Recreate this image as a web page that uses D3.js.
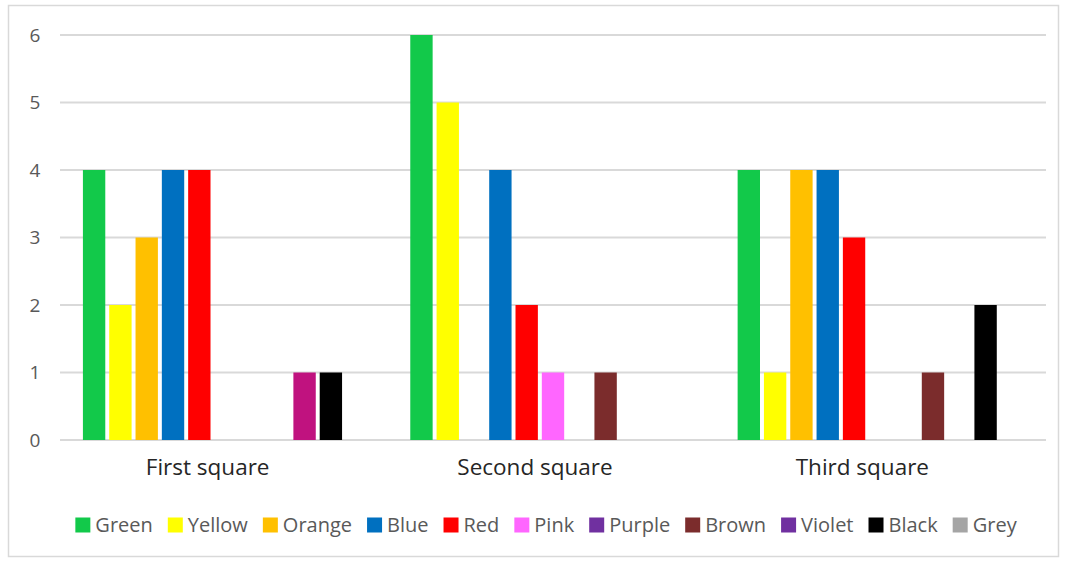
<!DOCTYPE html>
<html>
<head>
<meta charset="utf-8">
<script src="https://cdn.jsdelivr.net/npm/d3@7"></script>
<style>
  body { margin: 0; background: #fff; }
  text { font-family: "Open Sans", "Noto Sans", sans-serif; }
</style>
</head>
<body>
<svg id="chart"></svg>
<script>
const categories = ['First square', 'Second square', 'Third square']
const seriesNames = ['Green', 'Yellow', 'Orange', 'Blue', 'Red', 'Pink', 'Purple', 'Brown', 'Violet', 'Black', 'Grey']
const seriesColors = ['#12c94a', '#ffff00', '#ffc000', '#0070c0', '#ff0000', '#ff66ff', '#7030a0', '#7b2c2c', '#c0127f', '#000000', '#a5a5a5']
const legendColors = ['#12c94a', '#ffff00', '#ffc000', '#0070c0', '#ff0000', '#ff66ff', '#7030a0', '#7b2c2c', '#7030a0', '#000000', '#a5a5a5']
// values[series][category]
const values = [
  [4, 6, 4],
  [2, 5, 1],
  [3, 0, 4],
  [4, 4, 4],
  [4, 2, 3],
  [0, 1, 0],
  [0, 0, 0],
  [0, 1, 1],
  [1, 0, 0],
  [1, 0, 2],
  [0, 0, 0]
]
const yTicks = [0, 1, 2, 3, 4, 5, 6]

const size = { width: 1066, height: 561 }
const plot = { left: 60, right: 1046, top: 35, bottom: 440 }

const svg = d3.select('#chart')
  .attr('width', size.width)
  .attr('height', size.height)

svg.append('rect')
  .attr('x', 8.5).attr('y', 5.5)
  .attr('width', 1050).attr('height', 551)
  .attr('fill', '#fff')
  .attr('stroke', '#d9d9d9')
  .attr('stroke-width', 1.5)

const x0 = d3.scaleBand()
  .domain(categories)
  .range([plot.left, plot.right])
  .paddingInner(0.128)
  .paddingOuter(0.07)

const x1 = d3.scaleBand()
  .domain(seriesNames)
  .range([0, x0.bandwidth()])
  .paddingInner(0.15)

const y = d3.scaleLinear()
  .domain([0, 6])
  .range([plot.bottom, plot.top])

// gridlines
svg.append('g')
  .selectAll('line')
  .data(yTicks)
  .join('line')
  .attr('x1', plot.left)
  .attr('x2', plot.right)
  .attr('y1', (d) => y(d))
  .attr('y2', (d) => y(d))
  .attr('stroke', '#d9d9d9')
  .attr('stroke-width', 2)

// y tick labels
svg.append('g')
  .selectAll('text')
  .data(yTicks)
  .join('text')
  .attr('x', 35)
  .attr('y', (d) => y(d))
  .attr('dy', '0.35em')
  .attr('text-anchor', 'middle')
  .attr('font-size', 19)
  .attr('fill', '#595959')
  .text((d) => d)

// bars
const rows = []
seriesNames.forEach((s, i) => {
  categories.forEach((c, j) => {
    if (values[i][j] > 0) rows.push({ series: s, cat: c, value: values[i][j], color: seriesColors[i] })
  })
})

svg.append('g')
  .selectAll('rect')
  .data(rows)
  .join('rect')
  .attr('x', (d) => x0(d.cat) + x1(d.series))
  .attr('y', (d) => y(d.value))
  .attr('width', x1.bandwidth())
  .attr('height', (d) => y(0) - y(d.value))
  .attr('fill', (d) => d.color)

// category labels
svg.append('g')
  .selectAll('text')
  .data(categories)
  .join('text')
  .attr('x', (d) => x0(d) + x0.bandwidth() / 2 - 18)
  .attr('y', 467)
  .attr('dy', '0.35em')
  .attr('text-anchor', 'middle')
  .attr('font-size', 22.5)
  .attr('fill', '#262626')
  .text((d) => d)

// legend
const legend = svg.append('g')
const items = legend.selectAll('g')
  .data(seriesNames)
  .join('g')

items.append('rect')
  .attr('width', 15)
  .attr('height', 15)
  .attr('y', -7.5)
  .attr('fill', (d, i) => legendColors[i])

items.append('text')
  .attr('x', 20)
  .attr('dy', '0.35em')
  .attr('font-size', 20)
  .attr('fill', '#595959')
  .text((d) => d)

let offset = 0
items.each(function () {
  const g = d3.select(this)
  g.attr('transform', `translate(${offset},0)`)
  offset += 20 + g.select('text').node().getComputedTextLength() + 15
})
offset -= 15
legend.attr('transform', `translate(${546 - offset / 2},525)`)
</script>
</body>
</html>
